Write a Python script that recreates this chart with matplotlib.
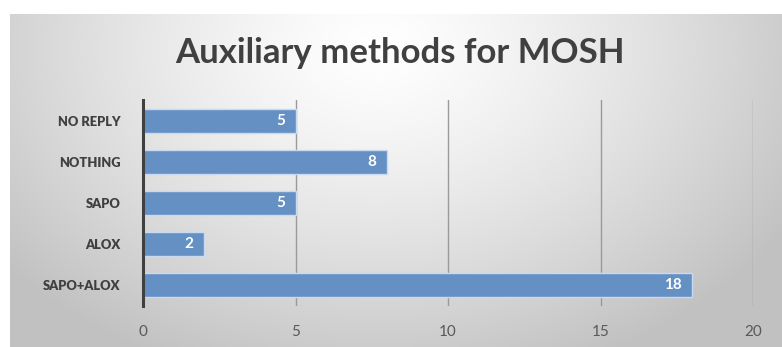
import numpy as np
import matplotlib
matplotlib.use("Agg")
import matplotlib.pyplot as plt

categories = ["SAPO+ALOX", "ALOX", "SAPO", "NOTHING", "NO REPLY"]
counts = [18, 2, 5, 8, 5]
x_ticks = [0, 5, 10, 15, 20]
title = "Auxiliary methods for MOSH"

W, H = 782, 347
fig = plt.figure(figsize=(W / 100, H / 100), dpi=100)
fig.patch.set_facecolor("white")

# radial grey gradient panel behind the chart
bg = fig.add_axes([10 / W, 0, 1 - 10 / W, 1 - 14 / H])
yy, xx = np.mgrid[0:200, 0:400]
cx, cy = 190, 20
r = np.sqrt(((xx - cx) / 400) ** 2 + ((yy - cy) / 200 * 0.6) ** 2)
r = np.clip(r / 0.62, 0, 1)
val = 1.0 - 0.24 * r ** 1.3
img = np.dstack([val, val, val])
bg.imshow(img, aspect="auto", extent=[0, 1, 0, 1], origin="upper")
bg.set_axis_off()

ax = fig.add_axes([143 / W, 1 - 306 / H, (753 - 143) / W, (306 - 100) / H])
ax.patch.set_alpha(0)
ypos = np.arange(len(categories))
ax.barh(ypos, counts, height=0.58, color="#6490c4", edgecolor="#c9daf0",
        linewidth=1.0, zorder=3)
for y, v in zip(ypos, counts):
    ax.text(v - 0.35, y, str(v), ha="right", va="center", color="white",
            fontsize=11, fontweight="bold", family="Lato", zorder=4)

ax.set_xlim(0, 20)
ax.set_ylim(-0.5, len(categories) - 0.5)
ax.set_xticks(x_ticks)
ax.set_xticklabels([str(t) for t in x_ticks], color="#595959", fontsize=11,
                   family="Lato")
ax.set_yticks(ypos)
ax.set_yticklabels(categories, color="#404040", fontsize=9.3,
                   fontweight="heavy", family="Lato")
ax.tick_params(axis="x", length=0, pad=14)
ax.tick_params(axis="y", length=0, pad=16)
ax.grid(axis="x", color="#9a9a9a", linewidth=1.0, zorder=1)
for s in ["top", "right", "bottom"]:
    ax.spines[s].set_visible(False)
ax.spines["left"].set_color("#404040")
ax.spines["left"].set_linewidth(2.2)
ax.spines["left"].set_zorder(5)

fig.text(400 / W, 1 - 53 / H, title, ha="center", va="center",
         fontsize=25, fontweight="bold", color="#404040", family="Lato")

fig.savefig("out.png", dpi=100)
